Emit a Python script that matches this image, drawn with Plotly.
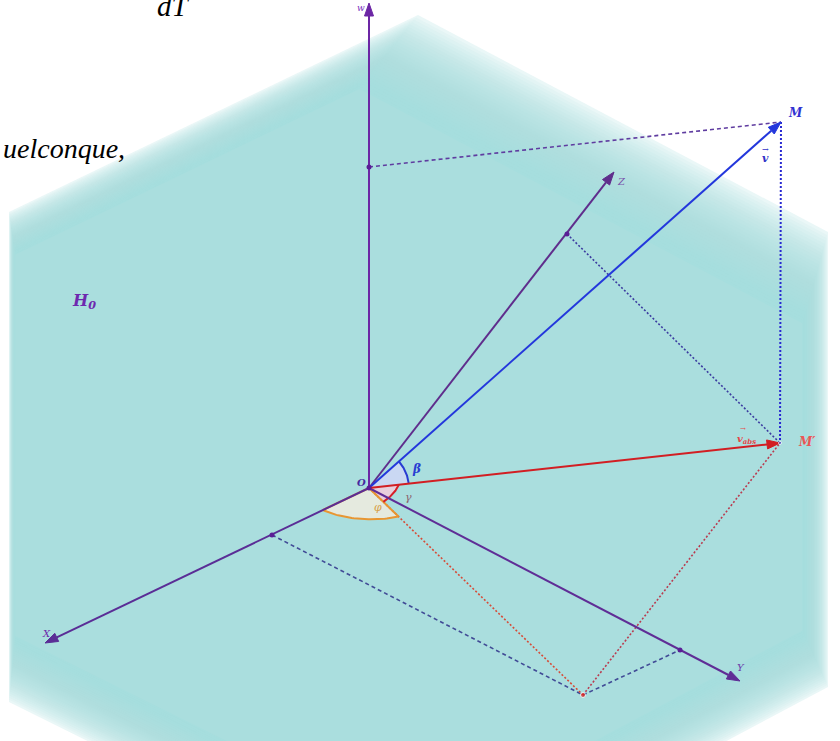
import numpy as np
import plotly.graph_objects as go

# ---------------- data (pixel-space diagram coordinates) ----------------
PT_NAMES = ["O", "W", "X", "Y", "Z", "M", "Mp", "P", "Wd", "Zd", "Xd", "Yd"]
PT_X = [369, 369, 45, 740, 614, 781, 780, 583, 369, 567, 272, 680]
PT_Y = [488, 3, 643, 681, 172, 122, 443, 695, 167, 234, 535, 650]

HEX_X = [418, 828, 828, 418, 9, 9]
HEX_Y = [15, 232, 687, 905, 702, 212]
FADE_W = [90, 25, 60, 60, 6, 40]

ARC_NAMES = ["beta", "gamma", "phi"]
ARC_RAY1 = ["Mp", "Mp", "X"]
ARC_RAY2 = ["M", "P", "P"]
ARC_R1 = [40, 30, 51]
ARC_R2 = [40, 20, 41]
ARC_THETA = [35, 45, 70]

P = {n: np.array([x, y], float) for n, x, y in zip(PT_NAMES, PT_X, PT_Y)}

fig = go.Figure()

# ---------------- hexagon with soft faded edges ----------------
V = np.array(list(zip(HEX_X, HEX_Y)), float)
cen = V.mean(axis=0)
nE = len(V)
normals, consts = [], []
for i in range(nE):
    a, b = V[i], V[(i + 1) % nE]
    d = b - a
    n = np.array([-d[1], d[0]])
    n /= np.linalg.norm(n)
    if np.dot(n, cen - a) < 0:
        n = -n
    normals.append(n)
    consts.append(np.dot(n, a))


def inset(t):
    pts = []
    for j in range(nE):
        i0 = (j - 1) % nE
        A = np.array([normals[i0], normals[j]])
        c = np.array([consts[i0] + t * FADE_W[i0], consts[j] + t * FADE_W[j]])
        pts.append(np.linalg.solve(A, c))
    pts.append(pts[0])
    return np.array(pts)


teal = (170, 222, 222)
NL = 30
layers = [(0.0, 0.25)] + [(k / NL, 0.09) for k in range(1, NL + 1)] + [(1.03, 1.0)]
for t, al in layers:
    q = inset(t)
    fig.add_trace(go.Scatter(x=q[:, 0], y=q[:, 1], mode="lines", fill="toself",
                             line=dict(width=0), fillcolor=f"rgba({teal[0]},{teal[1]},{teal[2]},{al})",
                             hoverinfo="skip", showlegend=False))


# ---------------- angle sectors ----------------
def arc_pts(r1name, r2name, rad1, rad2, theta_deg, n=40):
    O = P["O"]
    u1 = (P[r1name] - O) / np.linalg.norm(P[r1name] - O) * rad1
    u2 = (P[r2name] - O) / np.linalg.norm(P[r2name] - O) * rad2
    th = np.radians(theta_deg)
    ts = np.linspace(0, 1, n)
    pts = [O + (np.sin((1 - s) * th) * u1 + np.sin(s * th) * u2) / np.sin(th) for s in ts]
    return np.array(pts)


arc_style = {
    "beta": dict(fill="rgba(205,215,245,0.9)", line="rgb(40,60,210)", closed=False),
    "gamma": dict(fill="rgba(238,205,220,0.9)", line="rgb(215,30,40)", closed=False),
    "phi": dict(fill="rgba(232,234,222,0.95)", line="rgb(232,150,50)", closed=True),
}
arcs = {}
for nm, r1, r2, a1, a2, th in zip(ARC_NAMES, ARC_RAY1, ARC_RAY2, ARC_R1, ARC_R2, ARC_THETA):
    arcs[nm] = arc_pts(r1, r2, a1, a2, th)

for nm in ["phi", "gamma", "beta"]:
    a = arcs[nm]
    poly = np.vstack([P["O"], a, P["O"]])
    st = arc_style[nm]
    fig.add_trace(go.Scatter(x=poly[:, 0], y=poly[:, 1], mode="lines", fill="toself",
                             fillcolor=st["fill"], line=dict(width=0),
                             hoverinfo="skip", showlegend=False))


def seg(a, b, color, width, dash=None):
    fig.add_trace(go.Scatter(x=[P[a][0], P[b][0]], y=[P[a][1], P[b][1]], mode="lines",
                             line=dict(color=color, width=width, dash=dash),
                             hoverinfo="skip", showlegend=False))


# ---------------- construction lines ----------------
seg("Wd", "M", "rgb(95,60,160)", 1.6, "4px,3px")
seg("M", "Mp", "rgb(40,40,210)", 2.0, "2px,2px")
seg("Zd", "Mp", "rgb(60,60,160)", 1.6, "2px,2px")
seg("Xd", "P", "rgb(65,75,150)", 1.6, "4px,3px")
seg("P", "Yd", "rgb(65,75,150)", 1.6, "4px,3px")
seg("O", "P", "rgb(215,75,55)", 1.6, "2px,2px")
seg("P", "Mp", "rgb(185,60,80)", 1.6, "2px,2px")

for nm in ["phi", "gamma", "beta"]:
    a = arcs[nm]
    st = arc_style[nm]
    if st["closed"]:
        a = np.vstack([P["O"], a, P["O"]])
    fig.add_trace(go.Scatter(x=a[:, 0], y=a[:, 1], mode="lines",
                             line=dict(color=st["line"], width=2),
                             hoverinfo="skip", showlegend=False))


# ---------------- axes and vectors with arrowheads ----------------
def arrow(a, b, color, width, hl=13, hw=4.5):
    A, B = P[a], P[b]
    d = (B - A) / np.linalg.norm(B - A)
    nrm = np.array([-d[1], d[0]])
    base = B - d * hl
    fig.add_trace(go.Scatter(x=[A[0], base[0]], y=[A[1], base[1]], mode="lines",
                             line=dict(color=color, width=width),
                             hoverinfo="skip", showlegend=False))
    tri = np.array([B, base + nrm * hw, base - nrm * hw, B])
    fig.add_trace(go.Scatter(x=tri[:, 0], y=tri[:, 1], mode="lines", fill="toself",
                             fillcolor=color, line=dict(color=color, width=1),
                             hoverinfo="skip", showlegend=False))


arrow("O", "W", "rgb(108,38,165)", 2)
arrow("O", "Z", "rgb(95,45,140)", 2)
arrow("O", "X", "rgb(90,45,150)", 2)
arrow("O", "Y", "rgb(95,45,150)", 2)
arrow("O", "M", "rgb(35,55,220)", 2)
arrow("O", "Mp", "rgb(210,30,35)", 2)

dot_names = ["Wd", "Zd", "Xd", "Yd", "O"]
fig.add_trace(go.Scatter(x=[P[n][0] for n in dot_names], y=[P[n][1] for n in dot_names],
                         mode="markers", marker=dict(size=5, color="rgb(90,30,150)"),
                         hoverinfo="skip", showlegend=False))
fig.add_trace(go.Scatter(x=[P["P"][0], P["Mp"][0]], y=[P["P"][1], P["Mp"][1]],
                         mode="markers", marker=dict(size=[5, 3], color=["rgb(220,30,30)", "rgb(60,40,180)"]),
                         hoverinfo="skip", showlegend=False))

# ---------------- labels ----------------
LAB_TEXT = ["w", "M", "v", "\u2192", "Z", "O", "\u03b2", "\u03b3", "\u03c6",
            "v<sub>abs</sub>", "\u2192", "M\u2032", "X", "Y", "H<sub>0</sub>"]
LAB_X = [361, 795, 765, 765, 621, 361, 416, 408, 378, 746, 743, 807, 46, 741, 84]
LAB_Y = [8, 113, 158, 149, 181, 482, 469, 497, 507, 439, 429, 442, 633, 667, 301]
LAB_SIZE = [9, 12, 11, 8, 10, 10, 12, 11, 11, 10, 7, 12, 10, 10, 16]
LAB_COLOR = ["rgb(120,50,190)", "rgb(50,50,210)", "rgb(50,50,200)", "rgb(50,50,200)",
             "rgb(120,80,170)", "rgb(70,40,160)", "rgb(40,60,210)", "rgb(140,100,110)",
             "rgb(215,160,70)", "rgb(230,70,70)", "rgb(230,70,70)", "rgb(235,85,85)",
             "rgb(110,40,170)", "rgb(110,60,170)", "rgb(110,40,175)"]
LAB_WEIGHT = ["normal", "bold", "bold", "normal", "normal", "bold", "bold", "normal", "normal",
              "bold", "normal", "bold", "normal", "normal", "bold"]
for t, x, y, s, c, w in zip(LAB_TEXT, LAB_X, LAB_Y, LAB_SIZE, LAB_COLOR, LAB_WEIGHT):
    fig.add_annotation(x=x, y=y, text=t, showarrow=False, xanchor="center", yanchor="middle",
                       font=dict(family="DejaVu Serif", size=s, color=c, style="italic", weight=w))

# cropped document text fragments
fig.add_annotation(x=173, y=24, text="dT", showarrow=False, xanchor="center", yanchor="bottom",
                   font=dict(family="Liberation Serif", size=29, color="black", style="italic"))
fig.add_annotation(x=127, y=148, text="uelconque,", showarrow=False, xanchor="right", yanchor="middle",
                   font=dict(family="Liberation Serif", size=28, color="black", style="italic"))

fig.update_layout(width=840, height=741, margin=dict(l=0, r=0, t=0, b=0),
                  paper_bgcolor="white", plot_bgcolor="white", showlegend=False,
                  xaxis=dict(range=[0, 840], visible=False, fixedrange=True),
                  yaxis=dict(range=[741, 0], visible=False, fixedrange=True))

fig.write_html("out.html", config={"displayModeBar": False},
               post_script="document.body.style.margin='0';document.body.style.overflow='hidden';")
